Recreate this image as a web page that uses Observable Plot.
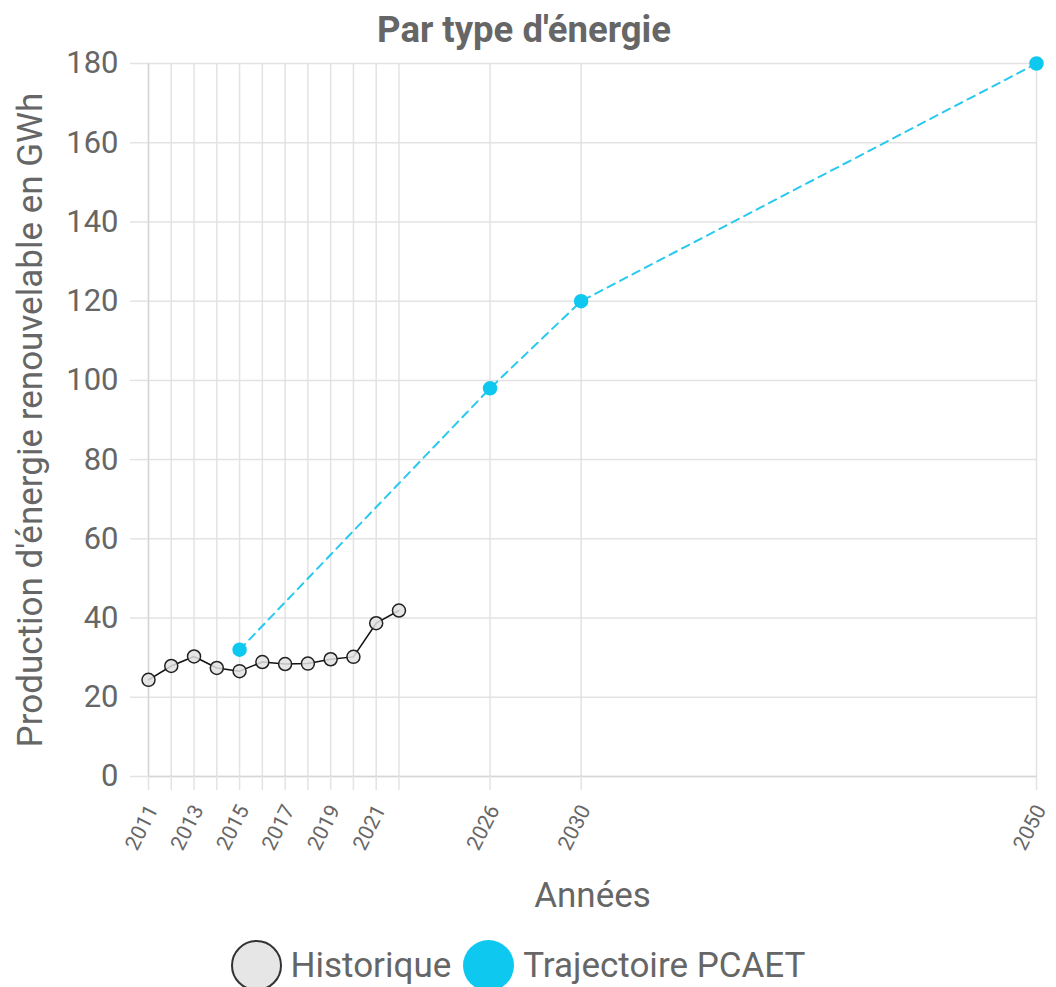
<!DOCTYPE html>
<html>
<head>
<meta charset="utf-8">
<script src="https://cdn.jsdelivr.net/npm/d3@7"></script>
<script src="https://cdn.jsdelivr.net/npm/@observablehq/plot@0.6"></script>
<style>
  body { margin: 0; padding-top: 40px; background: #fff; font-family: Roboto, "Liberation Sans", sans-serif; position: relative; }
  #title { position: absolute; top: 0; left: 0; width: 1048px; height: 50px; line-height: 59px; text-align: center; font-weight: bold; font-size: 36.5px; color: #666; white-space: nowrap; z-index: 2; }
  #chart svg { display: block; overflow: visible; }
  #legend { display: flex; justify-content: center; align-items: center; height: 67px; margin-top: 12px; font-size: 35px; color: #666; margin-left: -20px; }
  .sw { width: 51px; height: 51px; border-radius: 50%; box-sizing: border-box; display: inline-block; margin-right: 9px; }
</style>
</head>
<body>
<div id="title">Par type d'énergie</div>
<div id="chart"></div>
<div id="legend">
  <span class="sw" style="background:#e6e6e6;border:2px solid #333"></span><span>Historique</span>
  <span class="sw" style="background:#0fc8ef;margin-left:12px"></span><span>Trajectoire PCAET</span>
</div>
<script>
const histYears = [2011, 2012, 2013, 2014, 2015, 2016, 2017, 2018, 2019, 2020, 2021, 2022];
const histValues = [24.4, 27.9, 30.3, 27.4, 26.6, 28.9, 28.4, 28.5, 29.6, 30.2, 38.7, 41.9];
const trajYears = [2015, 2026, 2030, 2050];
const trajValues = [32, 98, 120, 180];
const xTickLabels = [2011, 2013, 2015, 2017, 2019, 2021, 2026, 2030, 2050];
const gridYears = [...histYears, 2026, 2030, 2050];
const yTicks = [0, 20, 40, 60, 80, 100, 120, 140, 160, 180];

const hist = histYears.map((y, i) => ({year: y, value: histValues[i]}));
const traj = trajYears.map((y, i) => ({year: y, value: trajValues[i]}));

const grid = "#e3e3e3";
const chart = Plot.plot({
  width: 1056,
  height: 880,
  marginLeft: 148,
  marginRight: 20,
  marginTop: 23,
  marginBottom: 144,
  style: {fontFamily: "Roboto, 'Liberation Sans', sans-serif", color: "#666", background: "transparent", overflow: "visible"},
  x: {domain: [2011, 2050]},
  y: {domain: [0, 180]},
  marks: [
    Plot.gridY(yTicks, {stroke: grid, strokeOpacity: 1, strokeWidth: 1.5}),
    Plot.gridX(gridYears, {stroke: grid, strokeOpacity: 1, strokeWidth: 1.5}),
    Plot.ruleY([0], {stroke: "#d6d6d6", strokeWidth: 1.5}),
    Plot.ruleX([2011], {stroke: "#d6d6d6", strokeWidth: 1.5}),
    Plot.axisY(yTicks, {tickSize: 18, stroke: grid, strokeOpacity: 1, strokeWidth: 1.5, tickPadding: 12, fontSize: 31, fill: "#666", label: null}),
    Plot.axisX(gridYears, {tickSize: 14, stroke: grid, strokeOpacity: 1, strokeWidth: 1.5, text: null, label: null}),
    Plot.axisX(xTickLabels, {tickSize: 0, tickRotate: -63, tickPadding: 30, dx: 4, fontSize: 21, fill: "#666", tickFormat: d => String(d), label: null}),
    Plot.text(["Production d'énergie renouvelable en GWh"], {frameAnchor: "left", textAnchor: "middle", dx: -118, rotate: -90, fontSize: 35, fill: "#666"}),
    Plot.text(["Années"], {frameAnchor: "bottom", dy: 130, fontSize: 35, fill: "#666"}),
    Plot.line(traj, {x: "year", y: "value", stroke: "#29c9ef", strokeWidth: 2, strokeDasharray: "8,6"}),
    Plot.dot(traj, {x: "year", y: "value", r: 6.5, fill: "#0fc8ef", stroke: "#0fc8ef"}),
    Plot.line(hist, {x: "year", y: "value", stroke: "#111", strokeWidth: 1.5}),
    Plot.dot(hist, {x: "year", y: "value", r: 6.5, fill: "#e2e2e2", fillOpacity: 0.85, stroke: "#222", strokeWidth: 1.5})
  ]
});
document.getElementById("chart").appendChild(chart);
</script>
</body>
</html>
